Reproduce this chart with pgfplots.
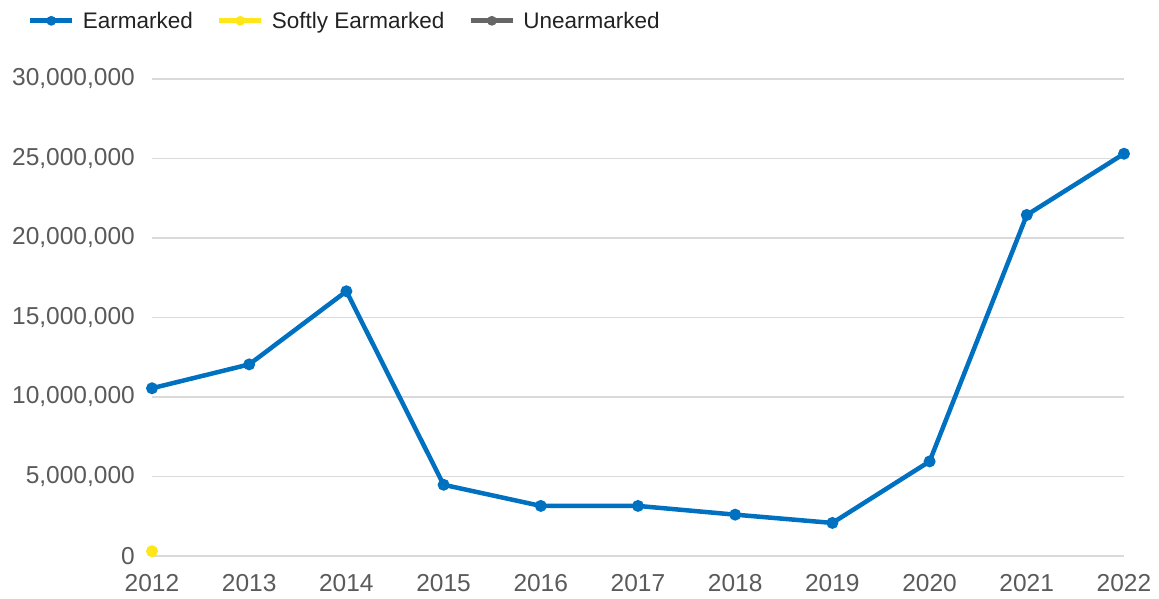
\documentclass[border=0pt]{standalone}
\usepackage{fontspec}
\setmainfont{Liberation Sans}
\usepackage{pgfplots}
\pgfplotsset{compat=1.18}
\definecolor{earm}{HTML}{0070C0}
\definecolor{soft}{HTML}{FFE619}
\definecolor{unearm}{HTML}{666666}
\definecolor{gridc}{HTML}{DADADA}
\definecolor{tickc}{HTML}{5A5A5A}
\definecolor{legc}{HTML}{222222}
\begin{document}
\begin{tikzpicture}
\begin{axis}[
  scale only axis,
  width=972pt, height=477pt,
  xmin=2012, xmax=2022,
  ymin=0, ymax=30000000,
  xtick={2012,...,2022},
  ytick={0,5000000,10000000,15000000,20000000,25000000,30000000},
  scaled y ticks=false,
  axis line style={draw=none},
  tick style={draw=none},
  ymajorgrids, grid style={gridc, line width=1.2pt},
  /pgf/number format/assume math mode=true,
  yticklabel={\pgfmathprintnumber[fixed,1000 sep={,}]{\tick}},
  xticklabel={\pgfmathprintnumber[fixed,1000 sep={}]{\tick}},
  yticklabel style={font=\fontsize{24.5}{28}\selectfont, text=tickc, anchor=east, inner sep=0pt, xshift=-17pt},
  xticklabel style={font=\fontsize{24.5}{28}\selectfont, text=tickc, anchor=north, inner sep=0pt, yshift=-18pt},
  legend columns=-1,
  legend style={draw=none, fill=none, at={(axis description cs:-0.128,1.122)}, anchor=west,
    font=\fontsize{22.5}{26}\selectfont, text=legc,
    /tikz/every even column/.append style={column sep=22pt},
    /tikz/every odd column/.append style={column sep=6pt},
    inner sep=0pt},
  legend image code/.code={%
    \draw[#1, line width=5pt, mark=none] (0pt,0pt) -- (42pt,0pt);
    \fill[#1] (21pt,0pt) circle (2.5pt);},
  clip=false,
]
\addplot[earm, line width=4.5pt, mark=*, mark size=3.6pt, mark options={solid}] coordinates {
(2012,10550000) (2013,12050000) (2014,16650000) (2015,4480000) (2016,3150000)
(2017,3150000) (2018,2600000) (2019,2080000) (2020,5950000) (2021,21450000) (2022,25300000)
};
\addlegendentry{Earmarked}
\addplot[soft, line width=4.5pt, mark=*, mark size=3.6pt] coordinates {
(2012,300000)
};
\addlegendentry{Softly Earmarked}
\addlegendimage{unearm, line width=4.5pt}
\addlegendentry{Unearmarked}
\end{axis}
\path[use as bounding box] (-152pt,-42pt) rectangle (1007pt,556pt);
\end{tikzpicture}
\end{document}
